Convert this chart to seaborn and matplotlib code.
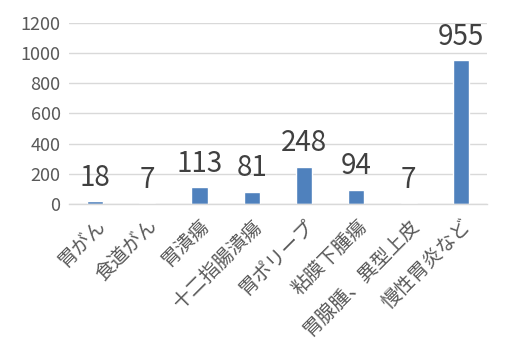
import matplotlib
matplotlib.use("Agg")
import matplotlib.pyplot as plt
import seaborn as sns
import pandas as pd

categories = ["胃がん", "食道がん", "胃潰瘍", "十二指腸潰瘍", "胃ポリープ", "粘膜下腫瘍", "胃腺腫、異型上皮", "慢性胃炎など"]
values = [18, 7, 113, 81, 248, 94, 7, 955]
yticks = [0, 200, 400, 600, 800, 1000, 1200]

sns.set_theme(style="white")
plt.rcParams['font.family'] = ['Noto Sans CJK JP', 'DejaVu Sans']

df = pd.DataFrame({"cat": categories, "val": values})

fig = plt.figure(figsize=(5.10, 3.48), dpi=100)
ax = fig.add_axes([0.135, 0.414, 0.82, 0.52])
sns.barplot(data=df, x="cat", y="val", color="#4F81BD", width=0.31, saturation=1, ax=ax)

ax.set_ylim(0, 1200)
ax.set_yticks(yticks)
ax.set_yticklabels([str(t) for t in yticks], fontsize=13, color="#595959")
ax.yaxis.grid(True, color="#D9D9D9", linewidth=1)
ax.set_axisbelow(True)
for s in ["top", "right", "left"]:
    ax.spines[s].set_visible(False)
ax.spines["bottom"].set_color("#D9D9D9")
ax.spines["bottom"].set_linewidth(1)
ax.tick_params(axis="y", length=0, pad=6)
ax.tick_params(axis="x", length=0, pad=8)
ax.set_xlabel("")
ax.set_ylabel("")
ax.set_xticks(range(len(categories)))
ax.set_xticklabels(categories, rotation=45, ha="right", rotation_mode="anchor", fontsize=14, color="#595959")
ax.set_xlim(-0.5, len(categories) - 0.5)

for i, v in enumerate(values):
    ax.annotate(str(v), (i, v), xytext=(0, 6), textcoords="offset points",
                ha="center", va="bottom", fontsize=20, color="#404040")

fig.savefig("out.png", dpi=100)
